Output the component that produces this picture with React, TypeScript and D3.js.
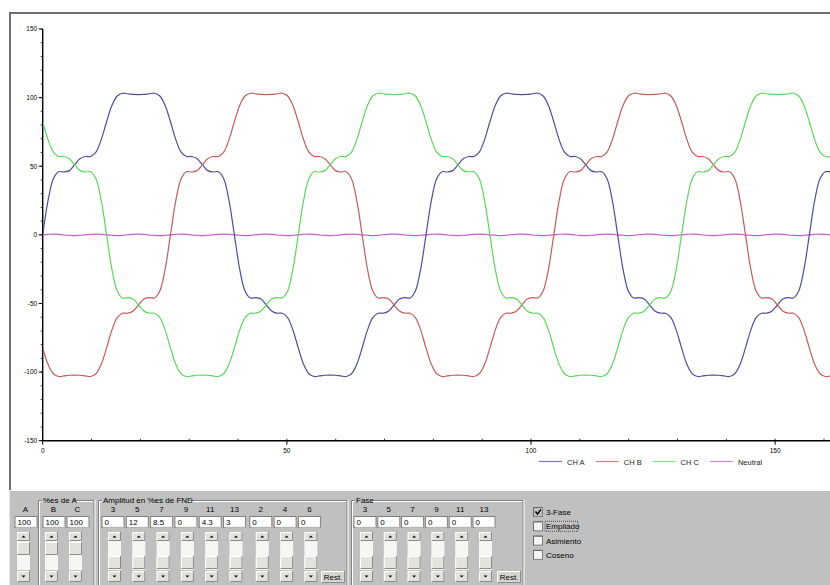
import React from 'react'
import * as d3 from 'd3'

const W = 830
const H = 585

// one cycle of CH A (% of FND), every 5 degrees
const cycleA = [
  0, 24.9, 40.9, 46.0, 45.8, 46.8, 51.1, 55.5, 57.1, 57.1, 60.3, 69.4,
  82.4, 94.3, 101.2, 103.2, 102.8, 102.3, 102.2, 102.3, 102.8, 103.2, 101.2, 94.3,
  82.4, 69.4, 60.3, 57.1, 57.1, 55.5, 51.1, 46.8, 45.8, 46.0, 40.9, 24.9,
  0, -24.9, -40.9, -46.0, -45.8, -46.8, -51.1, -55.5, -57.1, -57.1, -60.3, -69.4,
  -82.4, -94.3, -101.2, -103.2, -102.8, -102.3, -102.2, -102.3, -102.8, -103.2, -101.2, -94.3,
  -82.4, -69.4, -60.3, -57.1, -57.1, -55.5, -51.1, -46.8, -45.8, -46.0, -40.9, -24.9,
]
const cycleLength = 78.5 // x units per cycle
// neutral stays on zero with a small wobble
const neutralRipple = [0, 0.4, 0.6, 0.3, -0.1, -0.4, -0.6, -0.3, 0, 0.3, 0.5, 0.4, 0, -0.3, -0.5, -0.4, 0.1, 0.4, 0.6, 0.3, -0.1, -0.4, -0.5, -0.3]

const seriesNames = ['CH A', 'CH B', 'CH C', 'Neutral']
const seriesColors = ['#4d4d9e', '#c45c5c', '#5cd85c', '#c85cc8']
const phaseShift = [0, -24, 24] // samples, 120 deg

const yMajor = [-150, -100, -50, 0, 50, 100, 150]
const xMajor = [0, 50, 100, 150]
const xEnd = 161.5

const pctLabels = ['A', 'B', 'C']
const pctValues = ['100', '100', '100']
const ampHarmonics = ['3', '5', '7', '9', '11', '13', '2', '4', '6']
const ampValues = ['0', '12', '8.5', '0', '4.3', '3', '0', '0', '0']
const phaseHarmonics = ['3', '5', '7', '9', '11', '13']
const phaseValues = ['0', '0', '0', '0', '0', '0']
const options = ['3-Fase', 'Empilado', 'Asimiento', 'Coseno']
const optionsChecked = [true, false, false, false]

const panelFont = '"Liberation Sans", Arial, sans-serif'

const x = d3.scaleLinear().domain([0, 160]).range([42.7, 824])
const y = d3.scaleLinear().domain([-150, 150]).range([440.7, 29])

const step = cycleLength / 72
const nSamples = Math.floor(xEnd / step) + 1

const series = [0, 1, 2].map(k =>
  d3.range(nSamples).map(i => ({ t: i * step, v: cycleA[(((i + phaseShift[k]) % 72) + 72) % 72] }))
)
series.push(d3.range(nSamples).map(i => ({ t: i * step, v: neutralRipple[i % 24] })))

const line = d3.line<{ t: number; v: number }>()
  .x(d => x(d.t))
  .y(d => y(d.v))
  .curve(d3.curveCatmullRom)

const TextBox = ({ left, value, width = 22 }: { left: number; value: string; width?: number }) => (
  <g>
    <rect x={left} y={516.5} width={width} height={11} fill="#fff" stroke="#808080" strokeWidth={1} />
    <line x1={left + 1} y1={527} x2={left + width} y2={527} stroke="#e8e8e8" />
    <text x={left + 2.5} y={525} fontSize={8} fill="#000">{value}</text>
  </g>
)

const Arrow = ({ cx, cy, up }: { cx: number; cy: number; up: boolean }) => (
  <path d={up ? `M${cx - 2},${cy + 1}L${cx + 2},${cy + 1}L${cx},${cy - 1}Z` : `M${cx - 2},${cy - 1}L${cx + 2},${cy - 1}L${cx},${cy + 1}Z`} fill="#000" />
)

const Bevel = ({ left, top, w, h, fill }: { left: number; top: number; w: number; h: number; fill: string }) => (
  <g>
    <rect x={left} y={top} width={w} height={h} fill={fill} />
    <path d={`M${left + 0.5},${top + h}V${top + 0.5}H${left + w}`} stroke="#fff" fill="none" />
    <path d={`M${left + 0.5},${top + h - 0.5}H${left + w - 0.5}V${top}`} stroke="#8a8a8a" fill="none" />
  </g>
)

const ScrollBar = ({ left, thumbTop }: { left: number; thumbTop: boolean }) => {
  const w = 13
  return (
    <g>
      <rect x={left} y={541} width={w} height={29} fill="#f6f6f2" />
      <Bevel left={left} top={532} w={w} h={9} fill="#e2e0da" />
      <Arrow cx={left + w / 2} cy={536.5} up={true} />
      <Bevel left={left} top={thumbTop ? 542 : 556} w={w} h={13} fill="#e4e2dc" />
      <Bevel left={left} top={571} w={w} h={11} fill="#e2e0da" />
      <Arrow cx={left + w / 2} cy={576.5} up={false} />
    </g>
  )
}

const GroupBox = ({ left, right, label, labelW }: { left: number; right: number; label: string; labelW: number }) => (
  <g>
    <path d={`M${left + 0.5},590V500.5H${right}V590`} stroke="#808080" fill="none" />
    <path d={`M${left + 1.5},590V501.5H${right - 1}M${right + 1},500V590`} stroke="#fff" fill="none" />
    <rect x={left + 4} y={495} width={labelW} height={9} fill="#c0c0c0" />
    <text x={left + 5} y={502.5} fontSize={8} fill="#000">{label}</text>
  </g>
)

const RestButton = ({ left }: { left: number }) => (
  <g>
    <Bevel left={left} top={571} w={24} h={12} fill="#d8d6d0" />
    <text x={left + 12} y={580} fontSize={8} textAnchor="middle" fill="#000">Rest.</text>
  </g>
)

const App = () => {
  const clipId = 'plotClip'
  const ampLeft = (i: number) => 102 + i * 24.3 + (i >= 6 ? 2 : 0)
  const phaseLeft = (i: number) => 354 + i * 23.8

  return (
    <svg width={W} height={H} style={{ position: 'absolute', left: 0, top: 0, background: '#fff' }}>
      <defs>
        <clipPath id={clipId}>
          <rect x={43} y={14} width={W - 43} height={476} />
        </clipPath>
      </defs>

      {/* window frame */}
      <rect x={9} y={12} width={W} height={480} fill="#fff" />
      <rect x={9} y={12} width={W} height={2} fill="#6e6e6e" />
      <rect x={9} y={12} width={2} height={480} fill="#6e6e6e" />

      {/* y axis */}
      <line x1={x(0)} y1={y(150)} x2={x(0)} y2={y(-150)} stroke="#000" strokeWidth={1.4} />
      {d3.range(-150, 151, 10).map(v => (
        <line key={'ym' + v} x1={x(0) - 2} x2={x(0)} y1={y(v)} y2={y(v)} stroke="#000" strokeWidth={0.8} />
      ))}
      {yMajor.map(v => (
        <g key={'y' + v}>
          <line x1={x(0) - 4} x2={x(0)} y1={y(v)} y2={y(v)} stroke="#000" strokeWidth={1} />
          <text x={x(0) - 5.5} y={y(v) + 2.4} fontSize={6.5} textAnchor="end" fontFamily={panelFont} fill="#000">{v}</text>
        </g>
      ))}

      {/* x axis */}
      <line x1={x(0)} y1={y(-150)} x2={W} y2={y(-150)} stroke="#000" strokeWidth={1.4} />
      {d3.range(0, 161, 10).map(v => (
        <line key={'xm' + v} x1={x(v)} x2={x(v)} y1={y(-150) - 2} y2={y(-150)} stroke="#000" strokeWidth={0.8} />
      ))}
      {xMajor.map(v => (
        <g key={'x' + v}>
          <line x1={x(v)} x2={x(v)} y1={y(-150)} y2={y(-150) + 4} stroke="#000" strokeWidth={1} />
          <text x={x(v)} y={y(-150) + 12} fontSize={6.5} textAnchor="middle" fontFamily={panelFont} fill="#000">{v}</text>
        </g>
      ))}

      {/* waveforms */}
      <g clipPath={`url(#${clipId})`}>
        {[3, 0, 1, 2].map(k => (
          <path key={k} d={line(series[k]) || ''} fill="none" stroke={seriesColors[k]} strokeWidth={1.2} />
        ))}
      </g>

      {/* legend */}
      {seriesNames.map((name, k) => {
        const lx = 539 + k * 56.8 + (k === 3 ? 0.5 : 0)
        return (
          <g key={name}>
            <line x1={lx} x2={lx + 23} y1={461.5} y2={461.5} stroke={seriesColors[k]} strokeWidth={1.2} opacity={0.75} />
            <text x={lx + 28} y={464.5} fontSize={7.5} fontFamily={panelFont} fill="#222">{name}</text>
          </g>
        )
      })}

      {/* control panel */}
      <g fontFamily={panelFont}>
        <rect x={9} y={490} width={W - 9} height={H - 490} fill="#c0c0c0" />
        <line x1={9} y1={490.5} x2={W} y2={490.5} stroke="#fff" />
        <line x1={9.5} y1={490} x2={9.5} y2={H} stroke="#e8e8e8" />

        <GroupBox left={38} right={94} label="%es de A" labelW={31} />
        <GroupBox left={98} right={347} label="Amplitud en %es de FND" labelW={86} />
        <GroupBox left={351} right={523} label="Fase" labelW={18} />

        {pctLabels.map((lab, i) => {
          const left = i === 0 ? 15 : 43 + (i - 1) * 24
          return (
            <g key={'p' + lab}>
              <text x={left + 10.5} y={512} fontSize={8} textAnchor="middle" fill="#000">{lab}</text>
              <TextBox left={left} value={pctValues[i]} />
              <ScrollBar left={left + 2} thumbTop={true} />
            </g>
          )
        })}

        {ampHarmonics.map((h, i) => (
          <g key={'a' + i}>
            <text x={ampLeft(i) + 11} y={512} fontSize={8} textAnchor="middle" fill="#000">{h}</text>
            <TextBox left={ampLeft(i)} value={ampValues[i]} />
            <ScrollBar left={ampLeft(i) + 6} thumbTop={false} />
          </g>
        ))}
        <RestButton left={321} />

        {phaseHarmonics.map((h, i) => (
          <g key={'f' + i}>
            <text x={phaseLeft(i) + 11} y={512} fontSize={8} textAnchor="middle" fill="#000">{h}</text>
            <TextBox left={phaseLeft(i)} value={phaseValues[i]} />
            <ScrollBar left={phaseLeft(i) + 6} thumbTop={false} />
          </g>
        ))}
        <RestButton left={497} />

        {options.map((opt, i) => {
          const top = 507 + i * 14.3
          return (
            <g key={opt}>
              <rect x={533.5} y={top + 0.5} width={9} height={9} fill={optionsChecked[i] ? '#c0c0c0' : '#f4f4f4'} stroke="#808080" />
              <path d={`M533.5,${top + 9.5}V${top + 0.5}H542.5`} stroke="#6a6a6a" fill="none" />
              {optionsChecked[i] && (
                <path d={`M535.5,${top + 4.5}L537.5,${top + 7}L541,${top + 2.5}`} stroke="#000" strokeWidth={1.4} fill="none" />
              )}
              {i === 1 && (
                <rect x={545} y={top} width={33} height={10} fill="none" stroke="#000" strokeWidth={0.6} strokeDasharray="1,1" />
              )}
              <text x={546} y={top + 8} fontSize={8} fill="#000">{opt}</text>
            </g>
          )
        })}
      </g>
    </svg>
  )
}

export default App
